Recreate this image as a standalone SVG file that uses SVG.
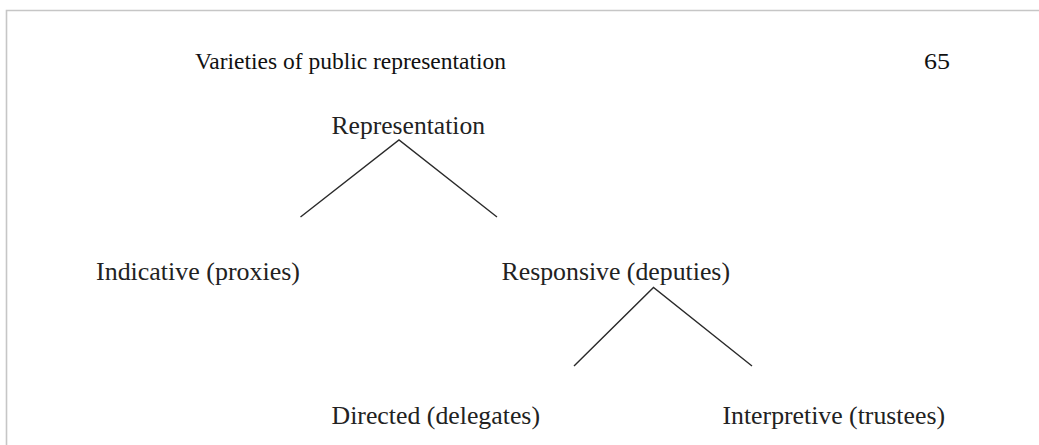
<svg xmlns="http://www.w3.org/2000/svg" width="1039" height="445" viewBox="0 0 1039 445">
<style>
.lbl{font-family:"Liberation Serif","Times New Roman",serif;font-size:26px;fill:#222}
.hdr{font-family:"Liberation Serif","Times New Roman",serif;font-size:24px;fill:#111}
.edge{stroke:#2a2a2a;stroke-width:1.4;fill:none}
.frame{stroke:#c6c6c6;stroke-width:1.6;fill:none}
</style>
<rect width="1039" height="445" fill="#fff"/>
<path class="frame" d="M6.5,445 V10.5 H1039"/>
<g id="header">
<text class="hdr" x="195" y="68.5" textLength="311" lengthAdjust="spacingAndGlyphs">Varieties of public representation</text>
<text class="hdr" x="924" y="68.5" textLength="26" lengthAdjust="spacingAndGlyphs">65</text>
</g>
<g id="connectors">
<polyline class="edge" points="300.5,217 399,140 497,217"/>
<polyline class="edge" points="574,366 653.5,287.5 752,366"/>
</g>
<g id="node-representation"><text class="lbl" x="331.5" y="134" textLength="153.5" lengthAdjust="spacingAndGlyphs">Representation</text></g>
<g id="node-indicative"><text class="lbl" x="96" y="280" textLength="204" lengthAdjust="spacingAndGlyphs">Indicative (proxies)</text></g>
<g id="node-responsive"><text class="lbl" x="501.5" y="280" textLength="228.5" lengthAdjust="spacingAndGlyphs">Responsive (deputies)</text></g>
<g id="node-directed"><text class="lbl" x="331.5" y="424" textLength="208.5" lengthAdjust="spacingAndGlyphs">Directed (delegates)</text></g>
<g id="node-interpretive"><text class="lbl" x="722.5" y="424" textLength="222.5" lengthAdjust="spacingAndGlyphs">Interpretive (trustees)</text></g>
</svg>
